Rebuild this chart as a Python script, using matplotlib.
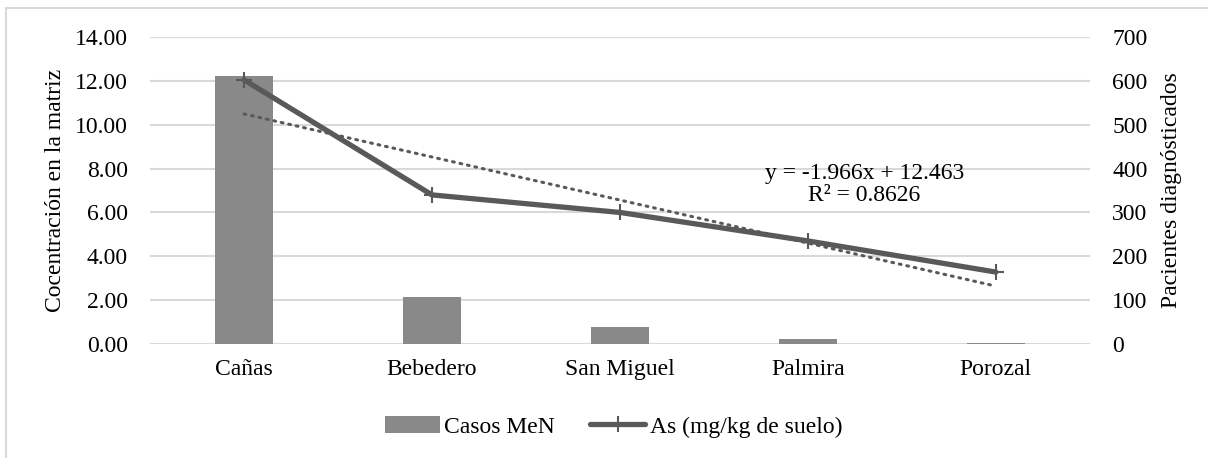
import matplotlib.pyplot as plt
import numpy as np
from matplotlib.patches import Rectangle

plt.rcParams["font.family"] = ["Liberation Serif", "DejaVu Serif"]

LOCALIDADES = ["Cañas", "Bebedero", "San Miguel", "Palmira", "Porozal"]
CASOS_MEN = [612, 107, 38, 12, 2]
AS_SUELO = [12.05, 6.8, 6.0, 4.7, 3.28]
ECUACION = "y = -1.966x + 12.463\nR² = 0.8626"

GRIS_BARRA = "#898989"
GRIS_LINEA = "#595959"
GRIS_GRID = "#d9d9d9"
TAM = 17


def plot_chart():
    fig = plt.figure(figsize=(12.08, 4.58), dpi=100)
    ax = fig.add_axes([0.1242, 0.249, 0.778, 0.670])
    ax2 = ax.twinx()

    x = np.arange(len(LOCALIDADES))

    # barras en el eje derecho, con la rejilla
    ax2.bar(x, CASOS_MEN, width=0.31, color=GRIS_BARRA, label="Casos MeN", zorder=2)
    ax2.set_ylim(0, 700)
    ax2.set_yticks(range(0, 701, 100))
    ax2.grid(axis="y", color=GRIS_GRID, linewidth=1.5, zorder=0)
    ax2.set_axisbelow(True)

    # línea y tendencia lineal en el eje izquierdo
    ax.plot(x, AS_SUELO, color=GRIS_LINEA, linewidth=3.8, marker="+", markersize=11,
            markeredgewidth=1.5, label="As (mg/kg de suelo)", solid_capstyle="round")
    pendiente, intercepto = np.polyfit(x + 1, AS_SUELO, 1)
    tendencia = pendiente * (x + 1) + intercepto
    ax.plot(x, tendencia, color=GRIS_LINEA, linewidth=2.2, linestyle=(0, (0.6, 1.9)),
            dash_capstyle="round")
    ax.text(3.3, 7.27, ECUACION, ha="center", va="center", fontsize=TAM, linespacing=1.05)

    ax.set_zorder(ax2.get_zorder() + 1)
    ax.patch.set_visible(False)

    ax.set_xlim(-0.5, len(LOCALIDADES) - 0.5)
    ax.set_ylim(0, 14)
    ax.set_yticks(np.arange(0, 14.01, 2))
    ax.set_yticklabels([f"{v:.2f}" for v in np.arange(0, 14.01, 2)])
    ax.set_xticks(x)
    ax.set_xticklabels(LOCALIDADES)

    for a in (ax, ax2):
        for s in a.spines.values():
            s.set_visible(False)
        a.tick_params(length=0, labelsize=TAM, colors="#000000")
    ax.tick_params(axis="y", pad=16)
    ax.tick_params(axis="x", pad=11)
    ax2.tick_params(axis="y", pad=16)

    ax.set_ylabel("Cocentración en la matriz", fontsize=TAM, labelpad=6)
    ax2.set_ylabel("Pacientes diagnósticados", fontsize=TAM, labelpad=10)

    h1, l1 = ax2.get_legend_handles_labels()
    h2, l2 = ax.get_legend_handles_labels()
    fig.legend(h1 + h2, l1 + l2, loc="center", bbox_to_anchor=(0.508, 0.068), ncol=2,
               frameon=False, prop={"family": "Liberation Serif", "size": TAM},
               handlelength=2.3, handletextpad=0.2, columnspacing=1.5)

    # marco gris del gráfico (cortado a la derecha y abajo)
    fig.patches.append(Rectangle((6 / 1208, -0.05), 1.1, 1 - 8 / 458 + 0.05,
                                 transform=fig.transFigure, fill=False,
                                 edgecolor=GRIS_GRID, linewidth=1.5))

    fig.savefig("out.png", dpi=100)


if __name__ == "__main__":
    plot_chart()
